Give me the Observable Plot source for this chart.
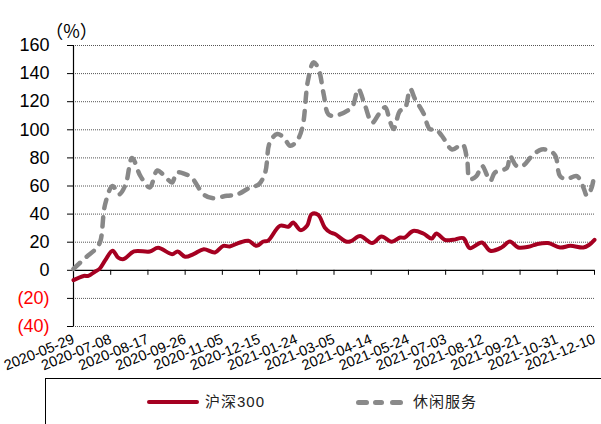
<!DOCTYPE html>
<html>
<head>
<meta charset="utf-8">
<script src="https://cdn.jsdelivr.net/npm/d3@7"></script>
<script src="https://cdn.jsdelivr.net/npm/@observablehq/plot@0.6"></script>
<style>
  html, body { margin: 0; padding: 0; background: #fff; }
  #wrap { position: relative; width: 601px; height: 424px; overflow: hidden; }
  #legend { position: absolute; left: 45px; top: 378px; width: 620px; height: 60px; border: 1px solid #000; box-sizing: border-box; }
  .lg { position: absolute; top: 13px; font: 15px "Liberation Sans", "Noto Sans CJK SC", sans-serif; color: #222; letter-spacing: 1px; line-height: 20px; }
</style>
</head>
<body>
<div id="wrap">
  <div id="chart"></div>
  <div id="legend">
    <div style="position:absolute;left:101px;top:21px;width:52px;height:4px;background:#A50021;border-radius:2px"></div>
    <div class="lg" style="left:159px">沪深300</div>
    <div style="position:absolute;left:310px;top:21px;width:13px;height:5px;background:#8a8a8a;border-radius:3px"></div>
    <div style="position:absolute;left:327px;top:21px;width:11px;height:5px;background:#8a8a8a;border-radius:3px"></div>
    <div style="position:absolute;left:344px;top:21px;width:13px;height:5px;background:#8a8a8a;border-radius:3px"></div>
    <div class="lg" style="left:367px">休闲服务</div>
  </div>
</div>
<script>
// ---- data ----
const hsDates = ["2020-05-29","2020-06-09","2020-06-14","2020-06-21","2020-06-26","2020-07-02","2020-07-10","2020-07-16","2020-07-22","2020-08-02","2020-08-19","2020-08-28","2020-09-12","2020-09-18","2020-09-26","2020-10-05","2020-10-16","2020-10-28","2020-11-06","2020-11-13","2020-11-24","2020-12-03","2020-12-12","2020-12-19","2020-12-24","2021-01-06","2021-01-15","2021-01-20","2021-01-28","2021-02-04","2021-02-09","2021-02-16","2021-02-23","2021-03-01","2021-03-06","2021-03-19","2021-03-24","2021-04-02","2021-04-15","2021-04-25","2021-05-06","2021-05-15","2021-05-20","2021-05-29","2021-06-09","2021-06-18","2021-06-23","2021-07-02","2021-07-11","2021-07-22","2021-07-29","2021-08-11","2021-08-20","2021-09-01","2021-09-10","2021-09-19","2021-09-30","2021-10-09","2021-10-21","2021-11-03","2021-11-14","2021-11-28","2021-12-04","2021-12-10"];
const hsValues = [-7,-4,-4,-1,1,7,14,9,8,13.4,13.4,16,11.5,13.4,9.6,11.5,15,12.7,17.4,17,19.8,21,17.4,20.5,21,31.7,31,34,28.6,31.7,40,39.5,30.5,27,25.8,20.3,21,24.5,19.4,24,20.3,23.3,23.3,28,26.2,22.6,26.2,21.7,21.7,22.9,15.8,19.8,13.9,16.2,20.5,16.2,16.7,18.6,19.4,16.2,17.4,16.2,18,21.7];

const xxDates = ["2020-05-29","2020-06-11","2020-06-23","2020-06-27","2020-07-02","2020-07-10","2020-07-17","2020-07-24","2020-07-31","2020-08-09","2020-08-19","2020-08-27","2020-09-04","2020-09-12","2020-09-17","2020-09-26","2020-10-03","2020-10-16","2020-10-25","2020-11-10","2020-11-21","2020-12-05","2020-12-14","2020-12-21","2020-12-26","2021-01-03","2021-01-10","2021-01-17","2021-01-24","2021-01-30","2021-02-05","2021-02-11","2021-02-16","2021-02-22","2021-02-27","2021-03-06","2021-03-24","2021-03-31","2021-04-07","2021-04-15","2021-04-22","2021-04-29","2021-05-04","2021-05-08","2021-05-15","2021-05-20","2021-05-26","2021-05-31","2021-06-09","2021-06-16","2021-06-22","2021-06-29","2021-07-10","2021-07-21","2021-07-26","2021-07-29","2021-08-05","2021-08-11","2021-08-20","2021-08-25","2021-09-07","2021-09-10","2021-09-17","2021-09-24","2021-10-04","2021-10-14","2021-10-23","2021-10-29","2021-11-03","2021-11-10","2021-11-21","2021-11-28","2021-12-02","2021-12-07","2021-12-10"];
const xxValues = [1,9,16,21,47,60,54,61,80,67,59,71,67,62.5,69.6,68.5,66,54,51.4,53,54,59,61,69.6,91,97,94.5,88.6,92,101.6,135,148,144,125,111,110,116,129,118,105,111,116,106.4,100.5,113.5,114.7,129,122,112,100.5,100.5,95.7,86,89.7,79,65,67,74.4,63.7,69.6,73,81.5,74.4,74.4,81.5,86,85,81.5,67,65,67,59,53,59,69.6];

const xTickLabels = ["2020-05-29","2020-07-08","2020-08-17","2020-09-26","2020-11-05","2020-12-15","2021-01-24","2021-03-05","2021-04-14","2021-05-24","2021-07-03","2021-08-12","2021-09-21","2021-10-31","2021-12-10"];
const yTicks = [-40,-20,0,20,40,60,80,100,120,140,160];
const yUnit = "（%）";

// ---- build ----
const parse = d3.utcParse("%Y-%m-%d");
const hs = hsDates.map((d, i) => ({date: parse(d), value: hsValues[i]}));
const xx = xxDates.map((d, i) => ({date: parse(d), value: xxValues[i]}));
const xTicks = xTickLabels.map(d => ({date: parse(d), label: d}));
const x0 = parse(xTickLabels[0]);
const x1 = parse(xTickLabels[xTickLabels.length - 1]);
const fmt = v => v < 0 ? `(${-v})` : `${v}`;
const tickFont = `"Liberation Sans", Arial, sans-serif`;

const chart = Plot.plot({
  width: 601,
  height: 378,
  marginLeft: 73,
  marginRight: 7,
  marginTop: 45,
  marginBottom: 52,
  x: {type: "utc", domain: [x0, x1], axis: null},
  y: {domain: [-40, 160], axis: null},
  style: {fontFamily: tickFont, background: "#fff", overflow: "visible"},
  marks: [
    Plot.ruleY(yTicks.filter(v => v !== 0), {stroke: "#555", strokeWidth: 1, strokeDasharray: "1,1"}),
    Plot.ruleX([x0], {stroke: "#000", strokeWidth: 1.2}),
    Plot.ruleY(yTicks, {x1: x0, x2: x0, insetLeft: -6, stroke: "#000", strokeWidth: 1}),
    Plot.ruleY([0], {stroke: "#000", strokeWidth: 1.3}),
    Plot.ruleX(xTicks, {x: "date", y1: 0, y2: 0, insetBottom: -5, stroke: "#000", strokeWidth: 1}),
    Plot.text(yTicks, {y: d => d, text: fmt, frameAnchor: "left", textAnchor: "end", dx: -24,
      fill: d => d < 0 ? "#FF0000" : "#000", fontSize: 18}),
    Plot.text([yUnit], {frameAnchor: "top-left", textAnchor: "middle", dx: -2, dy: -20, fontSize: 18, fill: "#000",
      fontFamily: `"Noto Sans CJK SC", sans-serif`}),
    Plot.text(xTicks, {x: "date", text: "label", frameAnchor: "bottom", textAnchor: "end", lineAnchor: "middle",
      rotate: -22, dy: 12, dx: 0, fontSize: 14.5, fill: "#000"}),
    Plot.line(xx, {x: "date", y: "value", stroke: "#888888", strokeWidth: 4.5, strokeDasharray: "9,9",
      strokeLinecap: "round", curve: "catmull-rom"}),
    Plot.line(hs, {x: "date", y: "value", stroke: "#A50021", strokeWidth: 4, curve: "catmull-rom"})
  ]
});
document.getElementById("chart").appendChild(chart);
</script>
</body>
</html>
